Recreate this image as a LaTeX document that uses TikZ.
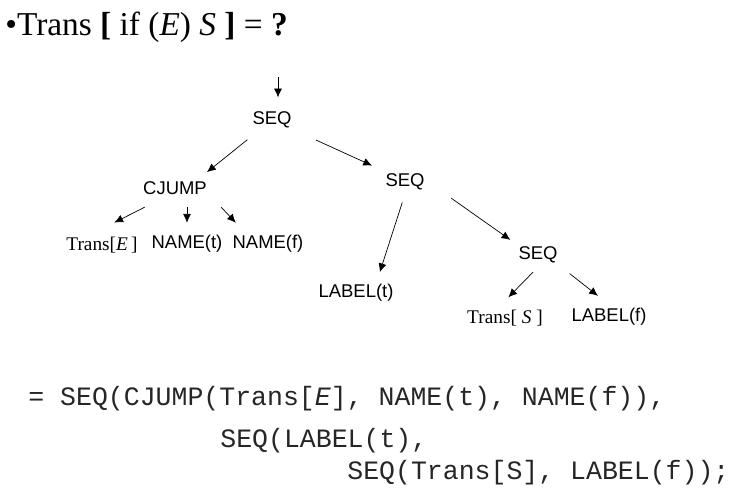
\documentclass[tikz,border=0pt]{standalone}
\usepackage{fontspec}
\setmainfont{Liberation Serif}
\setsansfont{Liberation Sans}
\setmonofont{Liberation Mono}
\usetikzlibrary{arrows.meta}
\tikzset{
  tnode/.style={font=\sffamily\fontsize{10.5}{12}\selectfont, inner sep=2pt},
  snode/.style={font=\fontsize{11}{12}\selectfont, inner sep=2pt},
  cline/.style={font=\ttfamily\fontsize{15.1}{16}\selectfont, text=black!85, anchor=base west, inner sep=0pt},
  edge/.style={-{Latex[length=5pt,width=4.5pt]}, thin, shorten <=4pt, shorten >=6pt}
}
\begin{document}
\begin{tikzpicture}[x=0.02cm, y=-0.02cm]
    \useasboundingbox (0,0) rectangle (746,490);
    \node (title) [anchor=base west, inner sep=0pt, font=\fontsize{19}{22}\selectfont] at (5,35)
      {\textbullet Trans \textbf{[} if (\textit{E}) \textit{S} \textbf{]} = \textbf{?}};
    \coordinate (top) at (278,77);
    \node (seq1) [tnode] at (272,120) {SEQ};
    \node (cjump) [tnode] at (175,188) {CJUMP};
    \node (seq2) [tnode] at (405,182) {SEQ};
    \node (transe) [snode] at (102,245) {Trans[\textit{E}\,]};
    \node (namet) [tnode] at (187,244) {NAME(t)};
    \node (namef) [tnode] at (268,244) {NAME(f)};
    \node (labelt) [tnode] at (356,293) {LABEL(t)};
    \node (seq3) [tnode] at (538,255) {SEQ};
    \node (transs) [snode] at (505,318) {Trans[ \textit{S} ]};
    \node (labelf) [tnode] at (609,317) {LABEL(f)};
    \draw[edge, shorten <=0pt, shorten >=6pt] (top) -- (seq1.north -| top);
    \draw[edge, shorten <=7pt, shorten >=5pt] (seq1) -- ([xshift=-6pt]cjump.north east);
    \draw[edge, shorten <=13pt] (seq1) -- (seq2.north west);
    \draw[edge, shorten <=0pt, shorten >=0pt] ([xshift=3pt,yshift=-5pt]cjump.south west) -- ([xshift=7pt,yshift=6pt]transe.north);
    \draw[edge, shorten <=5pt, shorten >=5pt] (cjump.south -| namet) -- (namet);
    \draw[edge, shorten <=0pt, shorten >=0pt] ([xshift=6pt,yshift=-5pt]cjump.south east) -- ([xshift=4pt,yshift=5pt]namef.north west);
    \draw[edge, shorten <=5pt, shorten >=5pt] (seq2.south) -- ([xshift=12pt]labelt.north);
    \draw[edge, shorten <=16pt, shorten >=3pt] (seq2.east) -- (seq3.north west);
    \draw[edge, shorten <=4pt, shorten >=7pt] (seq3.south) -- ([xshift=-3pt]transs.north);
    \draw[edge, shorten <=6pt, shorten >=8pt] (seq3.south east) -- (labelf.north);
    % code
    \node (code1) [cline] at (28,405) {= SEQ(CJUMP(Trans[\textit{E}], NAME(t), NAME(f)),};
    \node (code2) [cline] at (220,447) {SEQ(LABEL(t),};
    \node (code3) [cline] at (347,479) {SEQ(Trans[S], LABEL(f));};
\end{tikzpicture}
\end{document}
